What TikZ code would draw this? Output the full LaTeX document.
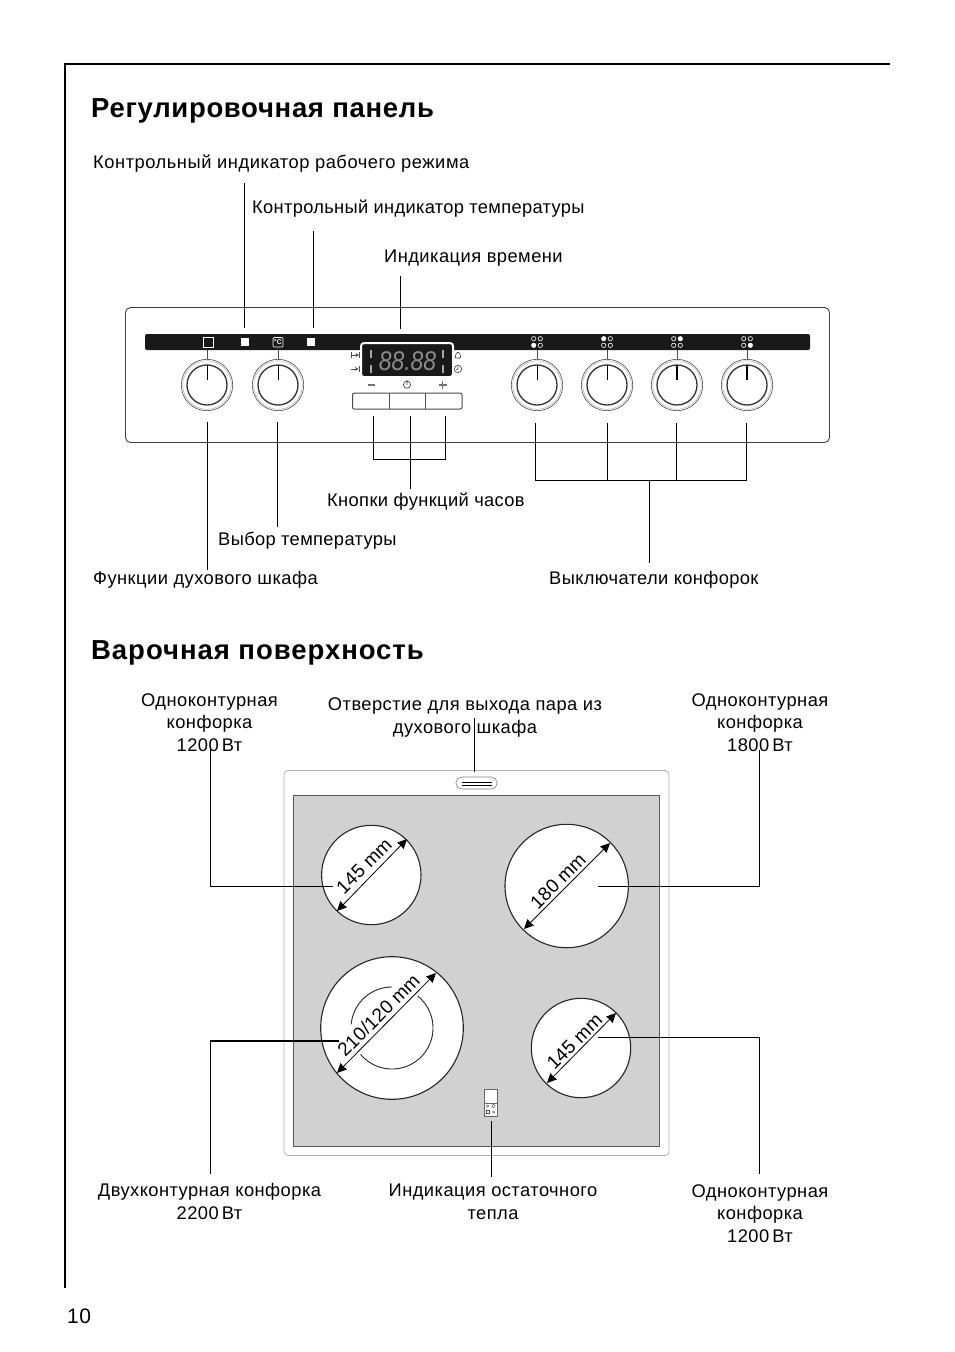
\documentclass[tikz,border=0pt]{standalone}
\usepackage{fontspec}
\setmainfont[LetterSpace=2.5]{Liberation Sans}
\usetikzlibrary{arrows.meta}
\definecolor{hobgray}{gray}{0.82}
\newcommand{\spc}[1]{\addfontfeature{LetterSpace=#1}}
\tikzset{
 lbl/.style={inner sep=0pt,anchor=base west,font=\fontsize{18.3}{22.5}\selectfont},
 clbl/.style={inner sep=0pt,anchor=base,align=center,font=\fontsize{18.3}{22.5}\selectfont},
 ttl/.style={inner sep=0pt,anchor=base west,font=\fontsize{27.5}{30}\selectfont\bfseries},
 lead/.style={line width=1pt,black},
 dim/.style={line width=0.8pt,{Stealth[length=9.5pt,width=9pt,inset=0.5pt]}-{Stealth[length=9.5pt,width=9pt,inset=0.5pt]}},
 dimt/.style={inner sep=0pt,rotate=45,font=\fontsize{19}{22}\selectfont\addfontfeature{LetterSpace=1}},
 knobo/.style={line width=0.6pt,draw=black!70},
 knobm/.style={line width=0.4pt,draw=black!35},
 knobi/.style={line width=1.3pt,draw=black!80},
 tick/.style={line width=0.9pt,draw=black!70},
 ptr/.style={line width=0.9pt,black},
}
\newcommand{\knob}[2]{%
 \draw[tick] (#1,350) -- (#1,360);
 \draw[knobo,fill=white] (#1,385) circle[radius=25.7pt];
 \draw[knobm] (#1,385) circle[radius=24.3pt];
 \draw[knobi] (#1,385) circle[radius=20pt];
 \draw[ptr,line width=#2] (#1,365) -- (#1,380);
}
\newcommand{\hobicon}[5]{%
 \foreach \dx/\dy/\ff in {-3.3/-3.3/#2,3.3/-3.3/#3,-3.3/3.3/#4,3.3/3.3/#5}{
  \draw[white,line width=0.6pt,fill=\ff] (#1+\dx,342+\dy) circle[radius=2.2pt];}
}
\begin{document}
\begin{tikzpicture}[x=1pt,y=-1pt]
\useasboundingbox (0,0) rectangle (954,1352);
\fill[white] (0,0) rectangle (954,1352);
% page frame
\coordinate (fa) at (65,1288); \coordinate (fb) at (65,64); \coordinate (fc) at (890,64);
\draw[line width=1.8pt] (fa) -- (fb) -- (fc);
\node[ttl] (t1) at (91,117) {Регулировочная панель};
\node[ttl] (t2) at (91,659) {\spc{3.5}Варочная поверхность};
\node[inner sep=0pt,anchor=base west,font=\fontsize{21}{24}\selectfont] (pg) at (67,1323) {10};
% panel labels
\node[lbl] (l1) at (93,168) {\spc{2.95}Контрольный индикатор рабочего режима};
\node[lbl] (l2) at (252,213) {\spc{1.7}Контрольный индикатор температуры};
\node[lbl] (l3) at (384,262) {Индикация времени};
\node[lbl] (l4) at (327,506) {\spc{2}Кнопки функций часов};
\node[lbl] (l5) at (218,545) {\spc{1.9}Выбор температуры};
\node[lbl] (l6) at (93,584) {Функции духового шкафа};
\node[lbl] (l7) at (549,584) {\spc{2}Выключатели конфорок};
% panel
\draw[line width=0.9pt,draw=black!75,rounded corners=5pt] (125.5,307.5) rectangle (829.5,442.5);
\fill[black!90,rounded corners=2pt] (145,334) rectangle (810,350);
\draw[white,line width=0.7pt] (203,337.5) rectangle (213,347);
\fill[white] (241,338) rectangle (249,346);
\fill[white] (307,338) rectangle (315,346);
\draw[white,line width=0.7pt,rounded corners=1pt] (273,337.5) rectangle (283,347);
\node[white,inner sep=0pt,font=\fontsize{7}{7}\selectfont\bfseries] (degc) at (278,342.3) {°C};
\hobicon{537}{black!90}{black!90}{white}{black!90}
\hobicon{607}{white}{black!90}{black!90}{black!90}
\hobicon{677}{black!90}{white}{black!90}{black!90}
\hobicon{747}{black!90}{black!90}{black!90}{white}
\knob{207}{0.9pt}\knob{278}{0.9pt}\knob{537}{0.9pt}\knob{607}{0.9pt}\knob{677}{1.6pt}\knob{747}{1.6pt}
% display
\draw[white,line width=2pt,fill=black!90,rounded corners=3pt] (361,343) rectangle (453,377);
\node[inner sep=0pt,text=black!45,xscale=0.85,font=\fontsize{27}{27}\selectfont\itshape\addfontfeature{LetterSpace=0}] (disp) at (407.5,361.5) {88.88};
\foreach \xx in {371,443}{
 \fill[black!35] (\xx-1.2,350) rectangle (\xx+1.2,358);
 \fill[black!35] (\xx-1.2,365) rectangle (\xx+1.2,373);}
% display symbols
\draw[black!70,line width=0.6pt] (351,352) -- (351,358) (359,352) -- (359,358);
\draw[black!70,line width=0.6pt,-{Stealth[length=3.5pt,width=4pt]}] (351,355) -- (359,355);
\draw[black!70,line width=0.6pt,-{Stealth[length=3.5pt,width=4pt]}] (351,369) -- (358.5,369);
\draw[black!70,line width=0.6pt] (359.5,366) -- (359.5,372);
\draw[black!80,line width=0.6pt,rounded corners=1pt] (455,358) -- (456.5,352.5) -- (459.5,352.5) -- (461,358) -- cycle;
\draw[black!80,line width=0.6pt] (458,369) circle[radius=3.7pt] (458,369) -- (458,366.5) (458,369) -- (456,370);
\draw[black!55,line width=1.2pt] (368,385) -- (375,385);
\draw[black!55,line width=1.2pt] (442.5,381) -- (442.5,388.5) (438.5,385) -- (446.5,385);
\draw[black!70,line width=0.7pt] (407,384.7) circle[radius=3.6pt] (407,380) -- (407,385);
% buttons
\draw[line width=1pt,draw=black!70,fill=white,rounded corners=2pt] (352.5,393) rectangle (462,409);
\coordinate (b1) at (389.5,393); \coordinate (b2) at (389.5,409); \coordinate (b3) at (425,393); \coordinate (b4) at (425,409);
\draw[line width=0.7pt,black!70] (b1) -- (b2) (b3) -- (b4);
% panel leaders
\foreach \n/\x/\ya/\yb in {a/244.5/183/328,b/313.5/231/328,c/400.5/276/329}{
 \coordinate (\n1) at (\x,\ya); \coordinate (\n2) at (\x,\yb);
 \draw[lead] (\n1) -- (\n2);}
\coordinate (d1) at (373.5,416); \coordinate (d2) at (373.5,459.5);
\coordinate (d3) at (410.5,416); \coordinate (d4) at (410.5,459.5); \coordinate (d5) at (410.5,489);
\coordinate (d6) at (445.5,416); \coordinate (d7) at (445.5,459.5);
\draw[lead] (d1) -- (d2) -- (d7) -- (d6) (d3) -- (d5);
\coordinate (e1) at (207.5,422); \coordinate (e2) at (207.5,570);
\coordinate (e3) at (277.5,422); \coordinate (e4) at (277.5,527);
\draw[lead] (e1) -- (e2) (e3) -- (e4);
\coordinate (g1) at (535.5,423); \coordinate (g2) at (535.5,480.5);
\coordinate (g3) at (607.5,423); \coordinate (g4) at (607.5,480.5);
\coordinate (g5) at (676.5,423); \coordinate (g6) at (676.5,480.5);
\coordinate (g7) at (746.5,423); \coordinate (g8) at (746.5,480.5);
\coordinate (g9) at (649.5,480.5); \coordinate (g10) at (649.5,563);
\draw[lead] (g1) -- (g2) -- (g8) -- (g7) (g3) -- (g4) (g5) -- (g6) (g9) -- (g10);
% hob labels (anchor = baseline of last line)
\node[clbl] (h1) at (209.5,751) {Одноконтурная\\конфорка\\1200\,Вт};
\node[clbl] (h2) at (465,733) {Отверстие для выхода пара из\\духового шкафа};
\node[clbl] (h3) at (760,751) {Одноконтурная\\конфорка\\1800\,Вт};
\node[clbl] (h4) at (209.5,1219) {Двухконтурная конфорка\\2200\,Вт};
\node[clbl] (h5) at (493,1219) {Индикация остаточного\\тепла};
\node[clbl] (h6) at (760,1242) {Одноконтурная\\конфорка\\1200\,Вт};
% hob
\draw[line width=0.8pt,draw=black!30,rounded corners=4pt] (284,770.5) rectangle (669,1155.5);
\draw[line width=0.9pt,draw=black!65,fill=hobgray] (293.5,795.5) rectangle (659.5,1146.5);
\draw[line width=0.6pt,draw=black!50,fill=white,rounded corners=5.5pt] (456,777) rectangle (497,789);
\draw[line width=0.9pt] (462,782) -- (492,782) (462,785) -- (492,785);
\tikzset{zone/.style={line width=1.1pt,draw=black!85,fill=white}}
\coordinate (c1) at (371.3,875); \coordinate (c2) at (566.7,886); \coordinate (c3) at (392,1028); \coordinate (c4) at (581,1048);
\draw[zone] (c1) circle[radius=49.7pt];
\draw[zone] (c2) circle[radius=61.7pt];
\draw[zone] (c3) circle[radius=71.3pt];
\draw[zone] (c4) circle[radius=49.7pt];
\draw[line width=0.9pt,draw=black!85] plot[domain=-90:-175,samples=40] ({392+41*cos(\x)},{1028+41*sin(\x)});
\draw[line width=0.9pt,draw=black!85] plot[domain=-51:140,samples=70] ({392+41*cos(\x)},{1028+41*sin(\x)});
\coordinate (a1) at (337,911); \coordinate (a2) at (407,839);
\coordinate (a3) at (524,929); \coordinate (a4) at (610,843);
\coordinate (a5) at (337,1073); \coordinate (a6) at (436,973);
\coordinate (a7) at (547,1083); \coordinate (a8) at (616,1013);
\draw[dim] (a1) -- (a2); \draw[dim] (a3) -- (a4); \draw[dim] (a5) -- (a6); \draw[dim] (a7) -- (a8);
\node[dimt] (d145a) at (364,866) {145 mm};
\node[dimt] (d180) at (558,881) {180 mm};
\node[dimt] (d210) at (378.5,1015) {210/120 mm};
\node[dimt] (d145b) at (574.5,1041.5) {145 mm};
% residual heat indicator
\draw[line width=0.7pt,draw=black!60,fill=white] (484.5,1089.5) rectangle (497.5,1116);
\draw[line width=0.6pt,draw=black!60] (484.5,1103) -- (497.5,1103);
\draw[line width=0.4pt,draw=black!70] (487.5,1106) circle[radius=1.2pt] (493.5,1106) circle[radius=1.8pt] (493.5,1112) circle[radius=1.2pt];
\draw[line width=0.4pt,draw=black!70] (486,1110) rectangle (489.5,1113.5);
% hob leaders
\coordinate (p1) at (210.5,748); \coordinate (p2) at (210.5,886.5); \coordinate (p3) at (333,886.5);
\draw[lead] (p1) -- (p2) -- (p3);
\coordinate (q1) at (474.5,718); \coordinate (q2) at (474.5,772);
\draw[lead] (q1) -- (q2);
\coordinate (r1) at (759.5,750); \coordinate (r2) at (759.5,886.5); \coordinate (r3) at (598,886.5);
\draw[lead] (r1) -- (r2) -- (r3);
\coordinate (s1) at (210.5,1174); \coordinate (s2) at (210.5,1041); \coordinate (s3) at (339,1041);
\draw[lead,line width=1.7pt] (s1) -- (s2) -- (s3);
\coordinate (u1) at (759.5,1174); \coordinate (u2) at (759.5,1037.5); \coordinate (u3) at (598,1037.5);
\draw[lead] (u1) -- (u2) -- (u3);
\coordinate (v1) at (491.5,1121); \coordinate (v2) at (491.5,1177);
\draw[lead] (v1) -- (v2);
\end{tikzpicture}
\end{document}
